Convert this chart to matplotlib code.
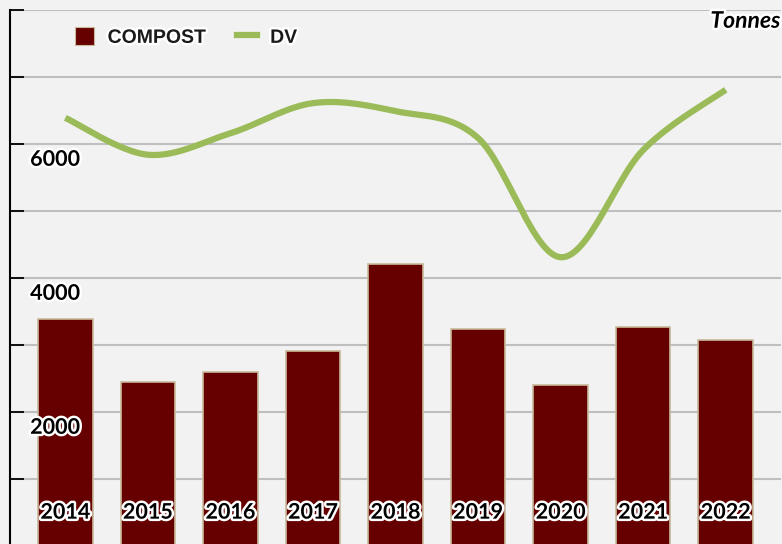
import numpy as np
import matplotlib.pyplot as plt
import matplotlib.patheffects as pe
from matplotlib.lines import Line2D
from matplotlib.patches import Patch

# ---- Data ----
years = ['2014', '2015', '2016', '2017', '2018', '2019', '2020', '2021', '2022']
compost = [3390, 2450, 2600, 2910, 4210, 3240, 2400, 3270, 3080]
dv = [6390, 5840, 6160, 6610, 6490, 6090, 4310, 5910, 6810]
y_labels = [2000, 4000, 6000]

bar_color = '#660000'
line_color = '#9bbb59'
bg = '#f2f2f2'
outline = [pe.withStroke(linewidth=3.5, foreground='white')]


def smooth(xs, ys, n=30):
    # Catmull-Rom style smoothing (like Excel's smoothed line)
    xs = np.asarray(xs, float)
    ys = np.asarray(ys, float)
    px = np.concatenate([[xs[0]], xs, [xs[-1]]])
    py = np.concatenate([[ys[0]], ys, [ys[-1]]])
    out_x, out_y = [], []
    t = np.linspace(0, 1, n)
    for i in range(1, len(px) - 2):
        p0x, p1x, p2x, p3x = px[i - 1], px[i], px[i + 1], px[i + 2]
        p0y, p1y, p2y, p3y = py[i - 1], py[i], py[i + 1], py[i + 2]
        c1x, c1y = p1x + (p2x - p0x) / 6, p1y + (p2y - p0y) / 6
        c2x, c2y = p2x - (p3x - p1x) / 6, p2y - (p3y - p1y) / 6
        bx = (1 - t) ** 3 * p1x + 3 * (1 - t) ** 2 * t * c1x + 3 * (1 - t) * t ** 2 * c2x + t ** 3 * p2x
        by = (1 - t) ** 3 * p1y + 3 * (1 - t) ** 2 * t * c1y + 3 * (1 - t) * t ** 2 * c2y + t ** 3 * p2y
        out_x.extend(bx)
        out_y.extend(by)
    return np.array(out_x), np.array(out_y)


fig = plt.figure(figsize=(7.82, 5.44), dpi=100, facecolor=bg)
ax = fig.add_axes([10 / 782, -2 / 544, 771 / 782, 536 / 544])
ax.set_facecolor(bg)

x = np.arange(len(years))

# ---- Bars ----
ax.bar(x, compost, width=0.66, color=bar_color, edgecolor='#c9b99b',
       linewidth=1.2, zorder=2)

# ---- Smoothed line ----
sx, sy = smooth(x, dv)
ax.plot(sx, sy, color=line_color, linewidth=4.5, solid_capstyle='butt', zorder=3)

# ---- Axes styling ----
ax.set_xlim(-0.67, len(years) - 1 + 0.67)
ax.set_ylim(0, 8000)
ax.set_yticks(np.arange(0, 8001, 1000))
ax.set_yticklabels([])
ax.set_xticks(x)
ax.set_xticklabels([])
ax.grid(axis='y', color='#bfbfbf', linewidth=1.5, zorder=0)
ax.set_axisbelow(True)
ax.tick_params(axis='y', direction='in', length=10, width=1.3, color='black')
ax.tick_params(axis='x', direction='in', length=8, width=1.3, color='black')
for s in ['top', 'right']:
    ax.spines[s].set_visible(False)
ax.spines['left'].set_linewidth(1.5)
ax.spines['bottom'].set_visible(False)

# y labels placed inside the plot, under their gridline
for v in y_labels:
    ax.annotate(str(v), xy=(-0.67, v), xytext=(14.5, -11), textcoords='offset points',
                ha='left', va='center', fontsize=15.5, fontweight='bold',
                family='Lato', color='black', path_effects=outline, zorder=5)

# year labels inside the bars
for xi, yr in zip(x, years):
    ax.text(xi, 505, yr, ha='center', va='center', fontsize=15.5, fontweight='bold',
            family='Lato', color='black', path_effects=outline, zorder=5)

# unit label
ax.text(0.999, 0.979, 'Tonnes', transform=ax.transAxes, ha='right', va='center',
        fontsize=16.5, fontweight='bold', style='italic', family='Lato',
        color='black', path_effects=outline, zorder=5)

# ---- Legend ----
handles = [Patch(facecolor=bar_color, edgecolor='#c9b99b', linewidth=0.8),
           Line2D([0], [0], color=line_color, linewidth=4.5)]
leg = ax.legend(handles, ['COMPOST', 'DV'], loc='upper left', bbox_to_anchor=(0.061, 1.0),
                ncol=2, frameon=False, handlelength=1.0, handleheight=1.0,
                handletextpad=0.7, columnspacing=1.6,
                prop={'family': 'Liberation Sans', 'weight': 'bold', 'size': 14})
for t in leg.get_texts():
    t.set_color('#1a1a1a')
    t.set_path_effects(outline)

fig.savefig('out.png', dpi=100, facecolor=bg)
